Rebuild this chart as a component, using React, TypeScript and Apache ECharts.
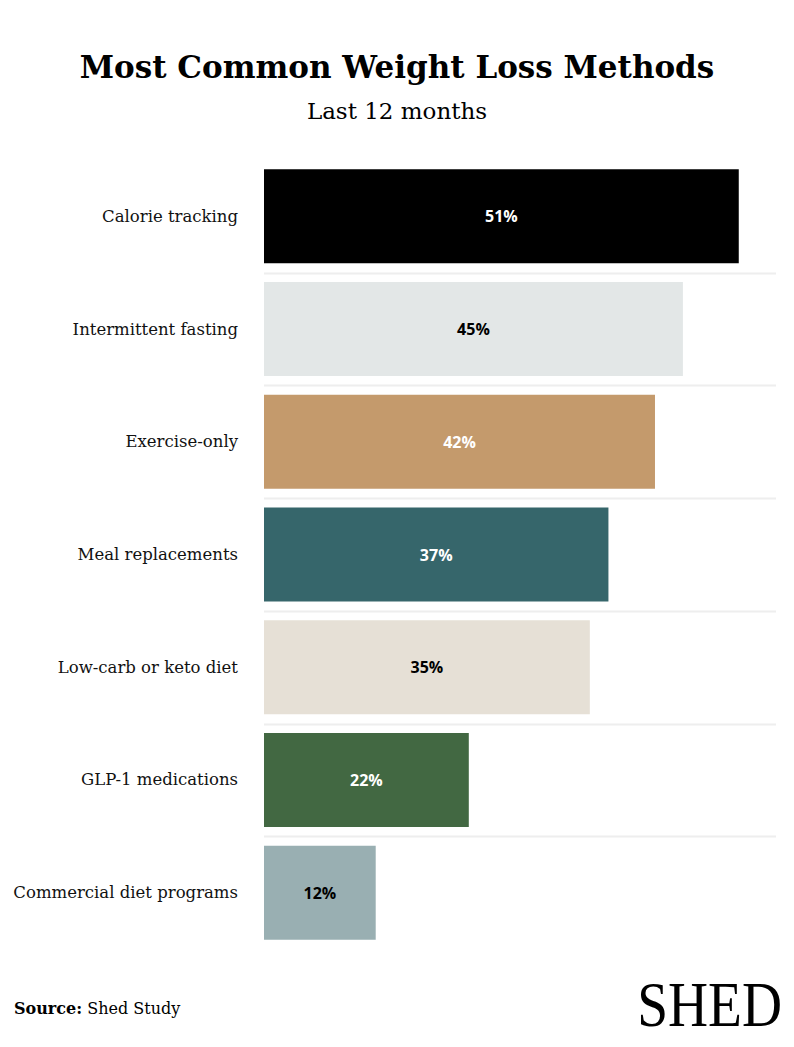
import React, { useEffect, useRef } from "react";
import * as echarts from "echarts";

const categories = [
  "Calorie tracking",
  "Intermittent fasting",
  "Exercise-only",
  "Meal replacements",
  "Low-carb or keto diet",
  "GLP-1 medications",
  "Commercial diet programs",
];
const values = [51, 45, 42, 37, 35, 22, 12];
const barColors = ["#000000", "#e3e7e7", "#c49a6c", "#36666b", "#e6e0d6", "#426842", "#99afb2"];
const labelColors = ["#ffffff", "#000000", "#ffffff", "#ffffff", "#000000", "#ffffff", "#000000"];

const SERIF = "'DejaVu Serif', 'Liberation Serif', serif";
const SANS = "'Open Sans', 'Noto Sans', sans-serif";

export default function App() {
  const ref = useRef<HTMLDivElement>(null);
  useEffect(() => {
    if (!ref.current) return;
    const chart = echarts.init(ref.current, undefined, { renderer: "svg" });
    chart.setOption({
      animation: false,
      backgroundColor: "#ffffff",
      title: [
        {
          text: "Most Common Weight Loss Methods",
          left: "center",
          top: 46,
          textStyle: { fontFamily: SERIF, fontWeight: "bold", fontSize: 31, color: "#000" },
        },
        {
          text: "Last 12 months",
          left: "center",
          top: 94,
          textStyle: { fontFamily: SERIF, fontWeight: "normal", fontSize: 23, color: "#000" },
        },
      ],
      grid: { left: 264, right: 18, top: 160, bottom: 98, containLabel: false },
      xAxis: {
        type: "value",
        min: 0,
        max: 55,
        show: false,
        splitLine: { show: false },
      },
      yAxis: {
        type: "category",
        data: categories,
        inverse: true,
        axisLine: { show: false },
        axisTick: { show: false },
        splitLine: { show: false },
        axisLabel: {
          margin: 26,
          fontFamily: SERIF,
          fontSize: 16.5,
          color: "#111",
        },
      },
      series: [
        {
          type: "bar",
          barWidth: 94,
          data: values.map((v, i) => ({
            value: v,
            itemStyle: { color: barColors[i] },
            label: { color: labelColors[i] },
          })),
          label: {
            show: true,
            position: "inside",
            formatter: "{c}%",
            fontFamily: SANS,
            fontWeight: "bold",
            fontSize: 16,
          },
        },
      ],
    });

    const lines: any[] = [];
    for (let i = 1; i < categories.length; i++) {
      const a = chart.convertToPixel({ gridIndex: 0 }, [0, categories[i - 1]]) as number[];
      const b = chart.convertToPixel({ gridIndex: 0 }, [0, categories[i]]) as number[];
      const xEnd = chart.convertToPixel({ gridIndex: 0 }, [55, categories[i]]) as number[];
      const y = Math.round((a[1] + b[1]) / 2) + 0.5;
      lines.push({
        type: "line",
        shape: { x1: a[0], y1: y, x2: xEnd[0], y2: y },
        style: { stroke: "#eeeeee", lineWidth: 2 },
        silent: true,
        z: -1,
      });
    }
    chart.setOption({
      graphic: [
        ...lines,
        {
          type: "text",
          left: 14,
          top: 1000,
          style: {
            text: "{b|Source:} Shed Study",
            rich: {
              b: { fontFamily: SERIF, fontWeight: "bold", fontSize: 16, fill: "#000" },
            },
            fontFamily: SERIF,
            fontSize: 16,
            fill: "#000",
          },
        },
        {
          type: "text",
          x: 782,
          y: 1036,
          scaleX: 0.88,
          style: {
            text: "SHED",
            x: 0,
            y: 0,
            align: "right",
            verticalAlign: "bottom",
            fontFamily: "'Liberation Serif', serif",
            fontSize: 63,
            fill: "#000",
          },
        },
      ],
    });
    return () => chart.dispose();
  }, []);
  return (
    <div
      ref={ref}
      style={{ position: "fixed", left: 0, top: 0, width: 794, height: 1047 }}
    />
  );
}
